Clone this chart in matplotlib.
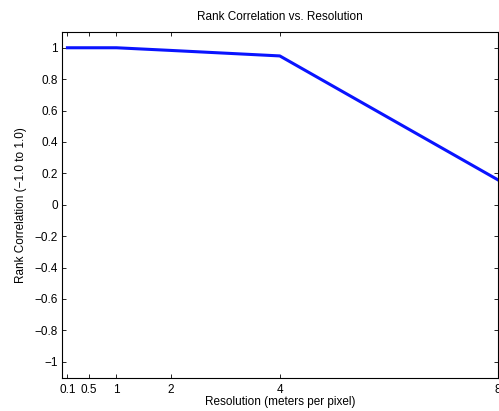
import matplotlib
matplotlib.use("Agg")
import matplotlib.pyplot as plt
import numpy as np

# data
resolution = [0.1, 0.5, 1, 2, 4, 8]
rank_corr = [1.0, 1.0, 1.0, 0.983, 0.948, 0.16]
x_ticks = [0.1, 0.5, 1, 2, 4, 8]
x_ticklabels = ["0.1", "0.5", "1", "2", "4", "8"]
y_ticks = np.round(np.arange(-1, 1.01, 0.2), 1)

plt.rcParams['font.family'] = ['Liberation Sans', 'DejaVu Sans']
plt.rcParams['font.size'] = 8.5

fig = plt.figure(figsize=(4.99, 4.11), dpi=100)
ax = fig.add_axes([0.1242, 0.0815, 0.873, 0.8405])

ax.plot(resolution, rank_corr, color='#0a14ff', linewidth=2.2)

ax.set_xlim(0, 8)
ax.set_ylim(-1.1, 1.1)
ax.set_xticks(x_ticks)
ax.set_xticklabels(x_ticklabels)
ax.set_yticks(y_ticks)
ax.set_yticklabels([("%g" % v).replace("-", "\u2212") if v != 0 else "0" for v in y_ticks])
ax.tick_params(direction='in', top=True, right=True, length=3, width=0.6)
ax.tick_params(axis='x', pad=5)
ax.tick_params(axis='y', pad=3)
for s in ax.spines.values():
    s.set_linewidth(0.8)

ax.set_title("Rank Correlation vs. Resolution", fontsize=8.5, pad=9)
ax.set_xlabel("Resolution (meters per pixel)", labelpad=0)
ax.set_ylabel("Rank Correlation (\u22121.0 to 1.0)", labelpad=5)

fig.savefig("out.png", dpi=100)
